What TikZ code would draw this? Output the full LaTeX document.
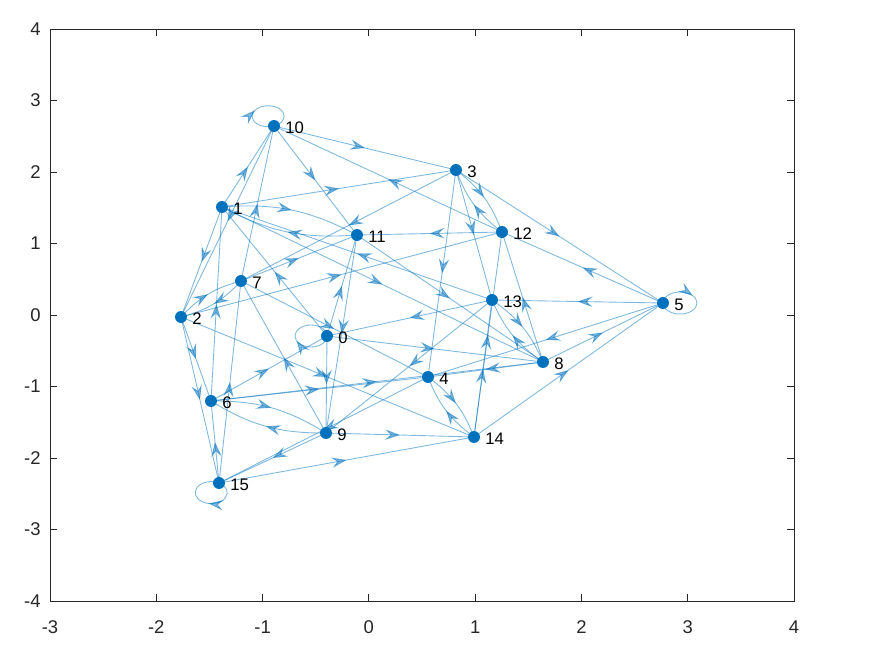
\documentclass[tikz,border=0pt]{standalone}
\usepackage{fontspec}
\setmainfont{Liberation Sans}
\usetikzlibrary{arrows.meta,decorations.markings}
\definecolor{mblue}{RGB}{0,114,189}
\definecolor{axc}{RGB}{38,38,38}
\begin{document}
\begin{tikzpicture}[x=0.02cm,y=-0.02cm,
  midarrow/.style={postaction={decorate},decoration={markings,mark=at position #1 with {\arrow{Stealth[length=8.5pt,width=6pt,inset=3.2pt]}}}},
  edge/.style={draw=mblue,opacity=0.5,line width=0.5pt,midarrow=0.5},
  loopst/.style={draw=mblue,opacity=0.5,line width=0.5pt},
  bedge/.style={edge,bend left=16},
  dot/.style={circle,fill=mblue,inner sep=0pt,minimum size=6.8pt},
  lab/.style={anchor=west,inner sep=0pt,font=\fontsize{9.5}{10}\selectfont},
  tickl/.style={font=\fontsize{10.5}{12}\selectfont,text=axc,inner sep=0pt},
  axline/.style={draw=axc,line width=0.5pt}]
\useasboundingbox (0,0) rectangle (874,669);
% node positions
\coordinate (c0) at (327,336);
\coordinate (c1) at (222,207);
\coordinate (c2) at (181,317);
\coordinate (c3) at (456,170);
\coordinate (c4) at (428,377);
\coordinate (c5) at (663,303);
\coordinate (c6) at (211,401);
\coordinate (c7) at (241,281);
\coordinate (c8) at (543,362);
\coordinate (c9) at (326,433);
\coordinate (c10) at (274,126);
\coordinate (c11) at (357,235);
\coordinate (c12) at (502,232);
\coordinate (c13) at (492,300);
\coordinate (c14) at (474,437);
\coordinate (c15) at (219,483);
% straight edges
\foreach \a/\b in {10/3,10/11,12/10,1/10,1/3,7/10,1/2,3/7,7/11,0/1,3/13,3/4,12/11,11/8,13/0,8/12,3/5,5/12,5/13,5/4,14/5,8/5,14/12,14/13,13/9,0/8,8/4,2/14,11/9,9/7,6/0,0/9,6/8,6/4,2/6,2/15,15/7,15/6,9/15,4/15,15/14,9/14,6/1,0/11,2/12,13/1,1/8,7/4,10/2}
  \draw[edge] (c\a) -- (c\b);
% bidirectional (curved) edges
\foreach \a/\b in {1/11,11/1,3/12,12/3,13/8,8/13,6/9,9/6,4/14,14/4,2/7,7/2}
  \draw[bedge] (c\a) to (c\b);
% self loops
\draw[loopst,midarrow=0.4] (c10) arc[start angle=-68.5,end angle=-428.5,x radius=0.32cm,y radius=0.21cm];
\draw[loopst,midarrow=0.44] (c0) arc[start angle=0,end angle=-360,x radius=0.32cm,y radius=0.22cm];
\draw[loopst,midarrow=0.4] (c5) arc[start angle=180,end angle=-180,x radius=0.34cm,y radius=0.22cm];
\draw[loopst,midarrow=0.44] (c15) arc[start angle=61,end angle=-299,x radius=0.32cm,y radius=0.22cm];
% nodes and labels
\foreach \i in {0,...,15} {
  \node[dot] (n\i) at (c\i) {};
  \node[lab] (l\i) at ([xshift=0.22cm,yshift=-0.04cm]c\i) {\i};
}
% axes
\draw[axline] (50,29) rectangle (794,601);
\foreach \v in {-3,...,4} {
  \draw[axline] ({50+(\v+3)*106.2857},601) -- ++(0,-7);
  \draw[axline] ({50+(\v+3)*106.2857},29) -- ++(0,7);
  \node[tickl] (xl\v) at ({50+(\v+3)*106.2857},627) {\v};
}
\foreach \v in {-4,...,4} {
  \draw[axline] (50,{29+(4-\v)*71.5}) -- ++(7,0);
  \draw[axline] (794,{29+(4-\v)*71.5}) -- ++(-7,0);
  \node[tickl,anchor=east] (yl\v) at (41,{29+(4-\v)*71.5}) {\v};
}
\end{tikzpicture}
\end{document}
